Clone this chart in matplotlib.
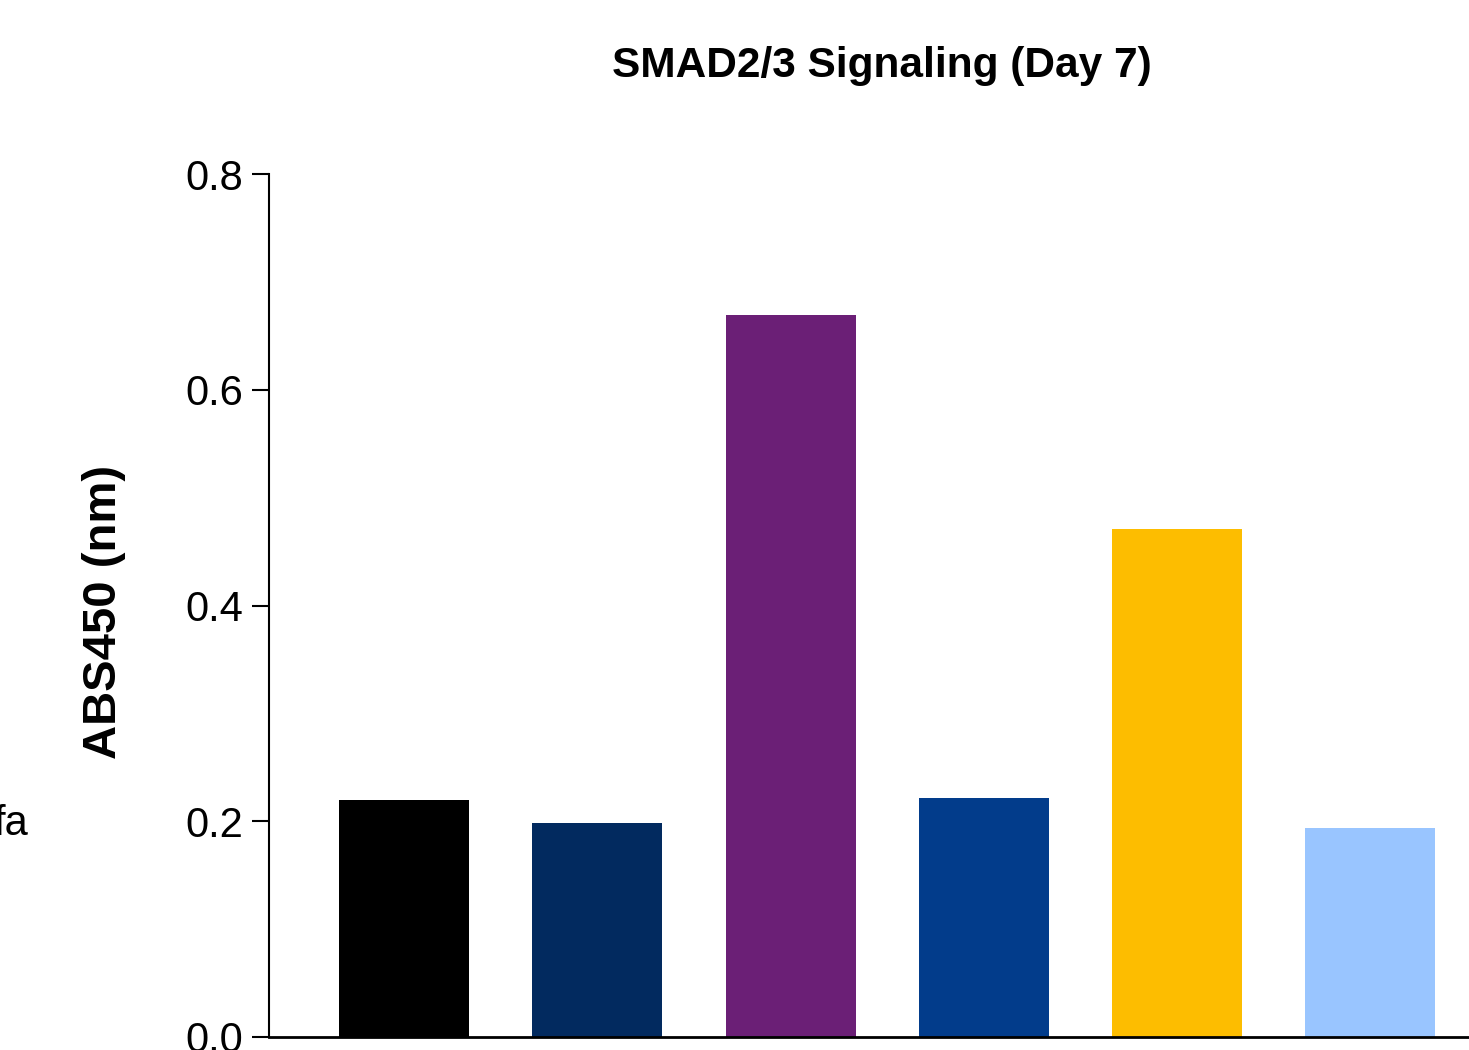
import numpy as np
import matplotlib.pyplot as plt

plt.rcParams['font.family'] = ['Liberation Sans', 'DejaVu Sans']

groups = ['Ctrl', 'G1', 'G2', 'G3', 'G4', 'G5']
abs450 = [0.220, 0.198, 0.669, 0.222, 0.471, 0.194]
colors = ['#000000', '#022a5f', '#6b1f76', '#023c8b', '#fdbd00', '#99c5ff']

fig = plt.figure(figsize=(14.69, 10.5), dpi=100)
ax = fig.add_axes([269/1469, 13/1050, 1 - 269/1469, (1037-174)/1050])

x = np.arange(len(groups))
ax.bar(x, abs450, width=0.6725, color=colors)

ax.set_xlim(-0.698, 5.51)
ax.set_ylim(0, 0.8)
ax.set_yticks([0.0, 0.2, 0.4, 0.6, 0.8])
ax.set_yticklabels(['0.0', '0.2', '0.4', '0.6', '0.8'])
ax.set_xticks([])
ax.tick_params(axis='y', labelsize=30, length=12.5, width=1.5, pad=6)
for s in ['top', 'right']:
    ax.spines[s].set_visible(False)
ax.spines['left'].set_linewidth(1.5)
ax.spines['bottom'].set_linewidth(2)

fig.text(882/1469, 1 - 66/1050, 'SMAD2/3 Signaling (Day 7)', ha='center', va='center',
         fontsize=30.5, fontweight='bold')
fig.text(104/1469, 1 - 612/1050, 'ABS450 (nm)', ha='center', va='center',
         rotation=90, fontsize=34, fontweight='bold')
fig.text(28/1469, 1 - 824/1050, 'fa', ha='right', va='center', fontsize=30)

fig.savefig('out.png', dpi=100)
